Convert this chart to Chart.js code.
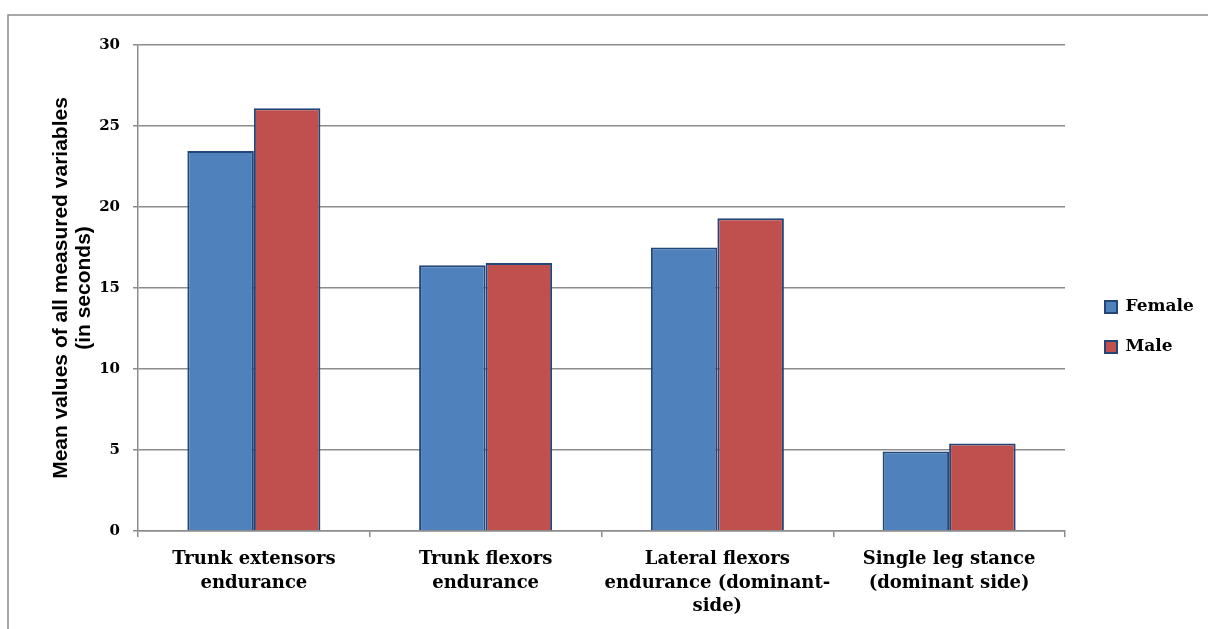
<!DOCTYPE html>
<html>
<head>
<meta charset="utf-8">
<script src="https://cdn.jsdelivr.net/npm/chart.js@4/dist/chart.umd.min.js"></script>
<style>
  html, body { margin: 0; padding: 0; background: #ffffff; }
  #wrap { width: 1208px; height: 629px; position: relative; }
</style>
</head>
<body>
<div id="wrap"><canvas id="chart" width="1208" height="629"></canvas></div>
<script>
// Category labels (wrapped as shown under the axis)
const categories = [
  ["Trunk extensors", "endurance"],
  ["Trunk flexors", "endurance"],
  ["Lateral flexors", "endurance (dominant-", "side)"],
  ["Single leg stance", "(dominant side)"]
];
const seriesNames = ["Female", "Male"];
const femaleValues = [23.45, 16.4, 17.5, 4.9];
const maleValues = [26.1, 16.55, 19.3, 5.4];
const yAxisTitle = ["Mean values of all measured variables", "(in seconds)"];
const yMin = 0, yMax = 30, yStep = 5;

const serifBold = "'DejaVu Serif', 'Liberation Serif', serif";

// Outer frame: a gray rule along the left and top edges
const framePlugin = {
  id: 'frame',
  beforeDraw(chart) {
    const ctx = chart.ctx;
    ctx.save();
    ctx.strokeStyle = '#8c8c8c';
    ctx.lineWidth = 1.5;
    ctx.beginPath();
    ctx.moveTo(8, chart.height);
    ctx.lineTo(8, 15);
    ctx.lineTo(chart.width, 15);
    ctx.stroke();
    ctx.restore();
  }
};

// Fixed legend column on the right, with items indented from the plot edge
const legendPlacement = {
  id: 'legendPlacement',
  afterInit(chart) {
    const lg = chart.legend;
    if (!lg) return;
    const fit = lg.fit.bind(lg);
    lg.fit = function () { fit(); this.width = 143; };
  },
  afterLayout(chart) {
    const lg = chart.legend;
    if (!lg) return;
    lg.left += 17;
    lg.right += 17;
    lg.top -= 10;
    lg.bottom -= 10;
  }
};

new Chart(document.getElementById('chart'), {
  type: 'bar',
  data: {
    labels: categories,
    datasets: [
      {
        label: seriesNames[0],
        data: femaleValues,
        backgroundColor: '#4f81bd',
        borderColor: '#22467a',
        borderWidth: 2
      },
      {
        label: seriesNames[1],
        data: maleValues,
        backgroundColor: '#c0504d',
        borderColor: '#22467a',
        borderWidth: 2
      }
    ]
  },
  options: {
    responsive: false,
    animation: false,
    devicePixelRatio: 1,
    layout: { padding: { top: 45, bottom: 0, left: 0, right: 0 } },
    datasets: {
      bar: { categoryPercentage: 0.574, barPercentage: 1.0 }
    },
    plugins: {
      tooltip: { enabled: false },
      legend: {
        position: 'right',
        labels: {
          boxWidth: 12,
          boxHeight: 12,
          padding: 23,
          color: '#000000',
          font: { family: serifBold, size: 17, weight: 'bold' }
        }
      }
    },
    scales: {
      x: {
        offset: true,
        grid: {
          display: true,
          offset: true,
          drawOnChartArea: false,
          drawTicks: true,
          tickLength: 6,
          color: '#8c8c8c',
          lineWidth: 1.5
        },
        border: { display: true, color: '#8c8c8c', width: 1.5 },
        ticks: {
          color: '#000000',
          padding: 11,
          maxRotation: 0,
          autoSkip: false,
          font: { family: serifBold, size: 18, weight: 'bold', lineHeight: 1.3 }
        },
        afterFit(scale) { scale.height = 98; }
      },
      y: {
        min: yMin,
        max: yMax,
        grid: {
          color: '#8c8c8c',
          lineWidth: 1.5,
          drawTicks: true,
          tickLength: 5
        },
        border: { display: true, color: '#8c8c8c', width: 1.5 },
        ticks: {
          stepSize: yStep,
          color: '#000000',
          padding: 13,
          font: { family: serifBold, size: 15, weight: 'bold' }
        },
        title: {
          display: true,
          text: yAxisTitle,
          color: '#000000',
          padding: { top: 50, bottom: 0 },
          font: { family: "'Liberation Sans', Arial, sans-serif", size: 21, weight: 'bold', lineHeight: 1.1 }
        },
        afterFit(scale) { scale.width = 138; }
      }
    }
  },
  plugins: [framePlugin, legendPlacement]
});
</script>
</body>
</html>
